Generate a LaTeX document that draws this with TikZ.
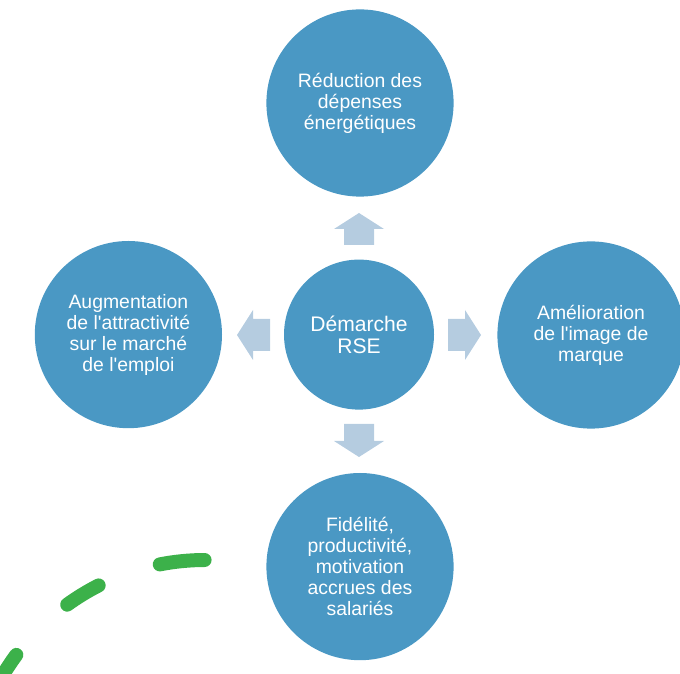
\documentclass[tikz,border=0pt]{standalone}
\usepackage{fontspec}
\newfontfamily\rsefont{Liberation Sans}
\definecolor{rseblue}{HTML}{4A98C4}
\definecolor{arrowblue}{HTML}{B5CCE0}
\definecolor{dashgreen}{HTML}{3CB14A}
\tikzset{
  bigcircle/.style={circle, fill=rseblue, text=white, minimum size=4.68cm, inner sep=0pt, align=center,
    font=\rsefont\fontsize{13.8}{14.9}\selectfont},
  hubcircle/.style={bigcircle, minimum size=3.75cm, font=\rsefont\fontsize{15}{15.6}\selectfont},
  blockarrow/.style={fill=arrowblue},
  greendash/.style={draw=dashgreen, line width=0.35cm, line cap=round}
}
\begin{document}
\begin{tikzpicture}
    \useasboundingbox (0,0) rectangle (17,16.825);
    \clip (0,0) rectangle (17,16.825);

    \node[hubcircle] (rse) at (8.975,8.46) {Démarche\\RSE};

    \node[bigcircle] (energie) at (9,14.25) {Réduction des\\dépenses\\énergétiques};
    \node[bigcircle] (attrait) at (3.21,8.46) {Augmentation\\de l'attractivité\\sur le marché\\de l'emploi};
    \node[bigcircle] (image) at (14.775,8.45) {Amélioration\\de l'image de\\marque};
    \node[bigcircle] (salaries) at (9,2.66) {Fidélité,\\productivité,\\motivation\\accrues des\\salariés};

    % block arrows
    \fill[blockarrow] (8.6,10.7) -- (9.35,10.7) -- (9.35,11.1) -- (9.6,11.1) -- (8.975,11.5) -- (8.35,11.1) -- (8.6,11.1) -- cycle;
    \fill[blockarrow] (8.6,6.225) -- (9.35,6.225) -- (9.35,5.8) -- (9.6,5.8) -- (8.975,5.4) -- (8.35,5.8) -- (8.6,5.8) -- cycle;
    \fill[blockarrow] (6.75,8.05) -- (6.75,8.85) -- (6.325,8.85) -- (6.325,9.075) -- (5.925,8.45) -- (6.325,7.825) -- (6.325,8.05) -- cycle;
    \fill[blockarrow] (11.2,8.05) -- (11.2,8.85) -- (11.625,8.85) -- (11.625,9.075) -- (12.025,8.45) -- (11.625,7.825) -- (11.625,8.05) -- cycle;

    % green dashes
    \coordinate (arcc) at (5.125,-3.05);
    \draw[greendash] ([shift={(90.1:5.875)}]arcc) arc[start angle=90.1, end angle=101.1, radius=5.875];
    \draw[greendash] ([shift={(116.9:5.875)}]arcc) arc[start angle=116.9, end angle=125.9, radius=5.875];
    \draw[greendash] ([shift={(143.4:5.875)}]arcc) arc[start angle=143.4, end angle=170, radius=5.875];

\end{tikzpicture}
\end{document}
